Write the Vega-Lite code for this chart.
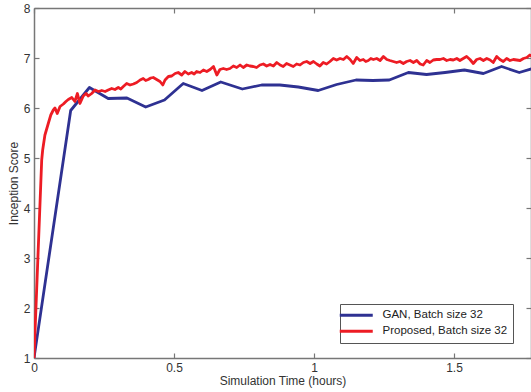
{
  "$schema": "https://vega.github.io/schema/vega-lite/v6.json",
  "width": 497,
  "height": 350,
  "autosize": {"type": "none"},
  "padding": {"left": 34, "top": 8, "right": 0, "bottom": 34},
  "background": "white",
  "config": {
    "view": {"stroke": null},
    "font": "Liberation Sans",
    "axis": {"domainColor": "#777", "tickColor": "#777", "labelColor": "#333", "titleColor": "#333", "labelFontSize": 12, "titleFontSize": 12, "titleFontWeight": "normal", "grid": false, "tickSize": -5, "domainWidth": 1.5, "tickWidth": 1.2}
  },
  "resolve": {"axis": {"x": "independent", "y": "independent"}},
  "data": {"values": [
    {"t": 0, "s": 1.0, "series": "GAN, Batch size 32"},
    {"t": 0.131, "s": 5.95, "series": "GAN, Batch size 32"},
    {"t": 0.198, "s": 6.41, "series": "GAN, Batch size 32"},
    {"t": 0.265, "s": 6.19, "series": "GAN, Batch size 32"},
    {"t": 0.332, "s": 6.2, "series": "GAN, Batch size 32"},
    {"t": 0.399, "s": 6.02, "series": "GAN, Batch size 32"},
    {"t": 0.466, "s": 6.16, "series": "GAN, Batch size 32"},
    {"t": 0.533, "s": 6.49, "series": "GAN, Batch size 32"},
    {"t": 0.6, "s": 6.35, "series": "GAN, Batch size 32"},
    {"t": 0.667, "s": 6.52, "series": "GAN, Batch size 32"},
    {"t": 0.744, "s": 6.38, "series": "GAN, Batch size 32"},
    {"t": 0.813, "s": 6.46, "series": "GAN, Batch size 32"},
    {"t": 0.878, "s": 6.46, "series": "GAN, Batch size 32"},
    {"t": 0.944, "s": 6.42, "series": "GAN, Batch size 32"},
    {"t": 1.015, "s": 6.35, "series": "GAN, Batch size 32"},
    {"t": 1.081, "s": 6.47, "series": "GAN, Batch size 32"},
    {"t": 1.15, "s": 6.56, "series": "GAN, Batch size 32"},
    {"t": 1.21, "s": 6.55, "series": "GAN, Batch size 32"},
    {"t": 1.269, "s": 6.56, "series": "GAN, Batch size 32"},
    {"t": 1.337, "s": 6.71, "series": "GAN, Batch size 32"},
    {"t": 1.402, "s": 6.67, "series": "GAN, Batch size 32"},
    {"t": 1.468, "s": 6.71, "series": "GAN, Batch size 32"},
    {"t": 1.537, "s": 6.76, "series": "GAN, Batch size 32"},
    {"t": 1.605, "s": 6.69, "series": "GAN, Batch size 32"},
    {"t": 1.67, "s": 6.83, "series": "GAN, Batch size 32"},
    {"t": 1.733, "s": 6.71, "series": "GAN, Batch size 32"},
    {"t": 1.8, "s": 6.82, "series": "GAN, Batch size 32"},
    {"t": 0, "s": 1.0, "series": "Proposed, Batch size 32"},
    {"t": 0.0275, "s": 4.96, "series": "Proposed, Batch size 32"},
    {"t": 0.031, "s": 5.16, "series": "Proposed, Batch size 32"},
    {"t": 0.039, "s": 5.46, "series": "Proposed, Batch size 32"},
    {"t": 0.051, "s": 5.69, "series": "Proposed, Batch size 32"},
    {"t": 0.06, "s": 5.86, "series": "Proposed, Batch size 32"},
    {"t": 0.069, "s": 5.96, "series": "Proposed, Batch size 32"},
    {"t": 0.075, "s": 6.0, "series": "Proposed, Batch size 32"},
    {"t": 0.083, "s": 5.89, "series": "Proposed, Batch size 32"},
    {"t": 0.093, "s": 6.03, "series": "Proposed, Batch size 32"},
    {"t": 0.105, "s": 6.08, "series": "Proposed, Batch size 32"},
    {"t": 0.114, "s": 6.13, "series": "Proposed, Batch size 32"},
    {"t": 0.1225, "s": 6.17, "series": "Proposed, Batch size 32"},
    {"t": 0.135, "s": 6.21, "series": "Proposed, Batch size 32"},
    {"t": 0.146, "s": 6.13, "series": "Proposed, Batch size 32"},
    {"t": 0.155, "s": 6.29, "series": "Proposed, Batch size 32"},
    {"t": 0.164, "s": 6.09, "series": "Proposed, Batch size 32"},
    {"t": 0.176, "s": 6.24, "series": "Proposed, Batch size 32"},
    {"t": 0.186, "s": 6.29, "series": "Proposed, Batch size 32"},
    {"t": 0.194, "s": 6.24, "series": "Proposed, Batch size 32"},
    {"t": 0.206, "s": 6.29, "series": "Proposed, Batch size 32"},
    {"t": 0.218, "s": 6.36, "series": "Proposed, Batch size 32"},
    {"t": 0.23, "s": 6.33, "series": "Proposed, Batch size 32"},
    {"t": 0.242, "s": 6.35, "series": "Proposed, Batch size 32"},
    {"t": 0.254, "s": 6.33, "series": "Proposed, Batch size 32"},
    {"t": 0.265, "s": 6.36, "series": "Proposed, Batch size 32"},
    {"t": 0.2775, "s": 6.39, "series": "Proposed, Batch size 32"},
    {"t": 0.289, "s": 6.37, "series": "Proposed, Batch size 32"},
    {"t": 0.301, "s": 6.41, "series": "Proposed, Batch size 32"},
    {"t": 0.31, "s": 6.38, "series": "Proposed, Batch size 32"},
    {"t": 0.319, "s": 6.43, "series": "Proposed, Batch size 32"},
    {"t": 0.331, "s": 6.49, "series": "Proposed, Batch size 32"},
    {"t": 0.343, "s": 6.46, "series": "Proposed, Batch size 32"},
    {"t": 0.355, "s": 6.48, "series": "Proposed, Batch size 32"},
    {"t": 0.367, "s": 6.51, "series": "Proposed, Batch size 32"},
    {"t": 0.379, "s": 6.56, "series": "Proposed, Batch size 32"},
    {"t": 0.39, "s": 6.59, "series": "Proposed, Batch size 32"},
    {"t": 0.399, "s": 6.55, "series": "Proposed, Batch size 32"},
    {"t": 0.408, "s": 6.57, "series": "Proposed, Batch size 32"},
    {"t": 0.417, "s": 6.6, "series": "Proposed, Batch size 32"},
    {"t": 0.426, "s": 6.61, "series": "Proposed, Batch size 32"},
    {"t": 0.438, "s": 6.57, "series": "Proposed, Batch size 32"},
    {"t": 0.45, "s": 6.53, "series": "Proposed, Batch size 32"},
    {"t": 0.46, "s": 6.46, "series": "Proposed, Batch size 32"},
    {"t": 0.468, "s": 6.56, "series": "Proposed, Batch size 32"},
    {"t": 0.48, "s": 6.63, "series": "Proposed, Batch size 32"},
    {"t": 0.492, "s": 6.64, "series": "Proposed, Batch size 32"},
    {"t": 0.504, "s": 6.69, "series": "Proposed, Batch size 32"},
    {"t": 0.515, "s": 6.71, "series": "Proposed, Batch size 32"},
    {"t": 0.5275, "s": 6.66, "series": "Proposed, Batch size 32"},
    {"t": 0.539, "s": 6.73, "series": "Proposed, Batch size 32"},
    {"t": 0.551, "s": 6.68, "series": "Proposed, Batch size 32"},
    {"t": 0.563, "s": 6.71, "series": "Proposed, Batch size 32"},
    {"t": 0.572, "s": 6.68, "series": "Proposed, Batch size 32"},
    {"t": 0.581, "s": 6.73, "series": "Proposed, Batch size 32"},
    {"t": 0.593, "s": 6.71, "series": "Proposed, Batch size 32"},
    {"t": 0.605, "s": 6.76, "series": "Proposed, Batch size 32"},
    {"t": 0.617, "s": 6.73, "series": "Proposed, Batch size 32"},
    {"t": 0.629, "s": 6.77, "series": "Proposed, Batch size 32"},
    {"t": 0.641, "s": 6.83, "series": "Proposed, Batch size 32"},
    {"t": 0.653, "s": 6.66, "series": "Proposed, Batch size 32"},
    {"t": 0.664, "s": 6.77, "series": "Proposed, Batch size 32"},
    {"t": 0.676, "s": 6.79, "series": "Proposed, Batch size 32"},
    {"t": 0.688, "s": 6.77, "series": "Proposed, Batch size 32"},
    {"t": 0.7, "s": 6.79, "series": "Proposed, Batch size 32"},
    {"t": 0.712, "s": 6.84, "series": "Proposed, Batch size 32"},
    {"t": 0.724, "s": 6.81, "series": "Proposed, Batch size 32"},
    {"t": 0.736, "s": 6.86, "series": "Proposed, Batch size 32"},
    {"t": 0.7475, "s": 6.81, "series": "Proposed, Batch size 32"},
    {"t": 0.76, "s": 6.86, "series": "Proposed, Batch size 32"},
    {"t": 0.771, "s": 6.84, "series": "Proposed, Batch size 32"},
    {"t": 0.783, "s": 6.83, "series": "Proposed, Batch size 32"},
    {"t": 0.795, "s": 6.81, "series": "Proposed, Batch size 32"},
    {"t": 0.807, "s": 6.86, "series": "Proposed, Batch size 32"},
    {"t": 0.819, "s": 6.88, "series": "Proposed, Batch size 32"},
    {"t": 0.831, "s": 6.84, "series": "Proposed, Batch size 32"},
    {"t": 0.843, "s": 6.87, "series": "Proposed, Batch size 32"},
    {"t": 0.855, "s": 6.84, "series": "Proposed, Batch size 32"},
    {"t": 0.867, "s": 6.91, "series": "Proposed, Batch size 32"},
    {"t": 0.879, "s": 6.86, "series": "Proposed, Batch size 32"},
    {"t": 0.89, "s": 6.83, "series": "Proposed, Batch size 32"},
    {"t": 0.902, "s": 6.89, "series": "Proposed, Batch size 32"},
    {"t": 0.914, "s": 6.86, "series": "Proposed, Batch size 32"},
    {"t": 0.926, "s": 6.83, "series": "Proposed, Batch size 32"},
    {"t": 0.938, "s": 6.88, "series": "Proposed, Batch size 32"},
    {"t": 0.95, "s": 6.86, "series": "Proposed, Batch size 32"},
    {"t": 0.962, "s": 6.91, "series": "Proposed, Batch size 32"},
    {"t": 0.974, "s": 6.93, "series": "Proposed, Batch size 32"},
    {"t": 0.986, "s": 6.89, "series": "Proposed, Batch size 32"},
    {"t": 0.998, "s": 6.93, "series": "Proposed, Batch size 32"},
    {"t": 1.01, "s": 6.88, "series": "Proposed, Batch size 32"},
    {"t": 1.021, "s": 6.84, "series": "Proposed, Batch size 32"},
    {"t": 1.033, "s": 6.91, "series": "Proposed, Batch size 32"},
    {"t": 1.045, "s": 6.88, "series": "Proposed, Batch size 32"},
    {"t": 1.057, "s": 6.93, "series": "Proposed, Batch size 32"},
    {"t": 1.069, "s": 6.99, "series": "Proposed, Batch size 32"},
    {"t": 1.081, "s": 6.96, "series": "Proposed, Batch size 32"},
    {"t": 1.093, "s": 6.99, "series": "Proposed, Batch size 32"},
    {"t": 1.105, "s": 6.97, "series": "Proposed, Batch size 32"},
    {"t": 1.117, "s": 7.03, "series": "Proposed, Batch size 32"},
    {"t": 1.129, "s": 6.97, "series": "Proposed, Batch size 32"},
    {"t": 1.14, "s": 6.89, "series": "Proposed, Batch size 32"},
    {"t": 1.1525, "s": 7.01, "series": "Proposed, Batch size 32"},
    {"t": 1.164, "s": 6.95, "series": "Proposed, Batch size 32"},
    {"t": 1.176, "s": 6.97, "series": "Proposed, Batch size 32"},
    {"t": 1.185, "s": 6.93, "series": "Proposed, Batch size 32"},
    {"t": 1.194, "s": 6.95, "series": "Proposed, Batch size 32"},
    {"t": 1.203, "s": 6.99, "series": "Proposed, Batch size 32"},
    {"t": 1.212, "s": 6.97, "series": "Proposed, Batch size 32"},
    {"t": 1.224, "s": 6.99, "series": "Proposed, Batch size 32"},
    {"t": 1.236, "s": 6.95, "series": "Proposed, Batch size 32"},
    {"t": 1.248, "s": 7.03, "series": "Proposed, Batch size 32"},
    {"t": 1.26, "s": 6.97, "series": "Proposed, Batch size 32"},
    {"t": 1.271, "s": 6.95, "series": "Proposed, Batch size 32"},
    {"t": 1.283, "s": 6.93, "series": "Proposed, Batch size 32"},
    {"t": 1.295, "s": 6.91, "series": "Proposed, Batch size 32"},
    {"t": 1.307, "s": 6.93, "series": "Proposed, Batch size 32"},
    {"t": 1.319, "s": 6.89, "series": "Proposed, Batch size 32"},
    {"t": 1.331, "s": 6.93, "series": "Proposed, Batch size 32"},
    {"t": 1.343, "s": 6.95, "series": "Proposed, Batch size 32"},
    {"t": 1.355, "s": 6.91, "series": "Proposed, Batch size 32"},
    {"t": 1.367, "s": 6.95, "series": "Proposed, Batch size 32"},
    {"t": 1.379, "s": 6.88, "series": "Proposed, Batch size 32"},
    {"t": 1.39, "s": 6.86, "series": "Proposed, Batch size 32"},
    {"t": 1.4025, "s": 6.95, "series": "Proposed, Batch size 32"},
    {"t": 1.414, "s": 6.91, "series": "Proposed, Batch size 32"},
    {"t": 1.426, "s": 6.96, "series": "Proposed, Batch size 32"},
    {"t": 1.438, "s": 6.97, "series": "Proposed, Batch size 32"},
    {"t": 1.45, "s": 6.97, "series": "Proposed, Batch size 32"},
    {"t": 1.462, "s": 6.99, "series": "Proposed, Batch size 32"},
    {"t": 1.474, "s": 6.95, "series": "Proposed, Batch size 32"},
    {"t": 1.486, "s": 6.97, "series": "Proposed, Batch size 32"},
    {"t": 1.4975, "s": 6.96, "series": "Proposed, Batch size 32"},
    {"t": 1.51, "s": 6.99, "series": "Proposed, Batch size 32"},
    {"t": 1.521, "s": 6.95, "series": "Proposed, Batch size 32"},
    {"t": 1.533, "s": 6.99, "series": "Proposed, Batch size 32"},
    {"t": 1.545, "s": 7.03, "series": "Proposed, Batch size 32"},
    {"t": 1.557, "s": 6.97, "series": "Proposed, Batch size 32"},
    {"t": 1.569, "s": 6.89, "series": "Proposed, Batch size 32"},
    {"t": 1.581, "s": 6.97, "series": "Proposed, Batch size 32"},
    {"t": 1.593, "s": 6.99, "series": "Proposed, Batch size 32"},
    {"t": 1.605, "s": 6.95, "series": "Proposed, Batch size 32"},
    {"t": 1.617, "s": 6.99, "series": "Proposed, Batch size 32"},
    {"t": 1.629, "s": 6.96, "series": "Proposed, Batch size 32"},
    {"t": 1.64, "s": 6.91, "series": "Proposed, Batch size 32"},
    {"t": 1.6525, "s": 7.03, "series": "Proposed, Batch size 32"},
    {"t": 1.664, "s": 6.97, "series": "Proposed, Batch size 32"},
    {"t": 1.676, "s": 6.93, "series": "Proposed, Batch size 32"},
    {"t": 1.688, "s": 6.99, "series": "Proposed, Batch size 32"},
    {"t": 1.7, "s": 6.95, "series": "Proposed, Batch size 32"},
    {"t": 1.712, "s": 6.97, "series": "Proposed, Batch size 32"},
    {"t": 1.724, "s": 6.96, "series": "Proposed, Batch size 32"},
    {"t": 1.736, "s": 6.95, "series": "Proposed, Batch size 32"},
    {"t": 1.748, "s": 6.99, "series": "Proposed, Batch size 32"},
    {"t": 1.76, "s": 7.01, "series": "Proposed, Batch size 32"},
    {"t": 1.771, "s": 7.06, "series": "Proposed, Batch size 32"},
    {"t": 1.785, "s": 7.0, "series": "Proposed, Batch size 32"}
  ]},
  "layer": [
    {
      "mark": {"type": "line", "strokeWidth": 2.8, "clip": true, "strokeJoin": "round"},
      "encoding": {
        "x": {"field": "t", "type": "quantitative", "scale": {"domain": [0, 1.775], "nice": false, "zero": false},
          "axis": {"title": "Simulation Time (hours)", "values": [0, 0.5, 1, 1.5], "format": "~g", "labelPadding": 9, "titlePadding": 2, "labelFlush": false}},
        "y": {"field": "s", "type": "quantitative", "scale": {"domain": [1, 8], "nice": false, "zero": false},
          "axis": {"title": "Inception Score", "values": [1, 2, 3, 4, 5, 6, 7, 8], "labelPadding": 9, "titlePadding": 3, "labelFlush": false}},
        "color": {"field": "series", "type": "nominal",
          "scale": {"domain": ["GAN, Batch size 32", "Proposed, Batch size 32"], "range": ["#2e3192", "#ed1c24"]},
          "legend": {"title": null, "orient": "none", "legendX": 306, "legendY": 296, "symbolType": "M-5.5,0H5.5", "symbolSize": 36, "symbolStrokeWidth": 3, "symbolOffset": 5, "labelFontSize": 11.5, "labelColor": "#222", "strokeColor": "#555", "fillColor": "white", "padding": 5.5, "rowPadding": 3, "labelOffset": 20.5, "cornerRadius": 0}}
      }
    },
    {
      "mark": {"type": "point", "opacity": 0},
      "encoding": {
        "x": {"field": "t", "type": "quantitative", "axis": {"orient": "top", "values": [0, 0.5, 1, 1.5], "labels": false, "title": null}},
        "y": {"field": "s", "type": "quantitative", "axis": {"orient": "right", "values": [1, 2, 3, 4, 5, 6, 7, 8], "labels": false, "title": null}}
      }
    }
  ]
}
